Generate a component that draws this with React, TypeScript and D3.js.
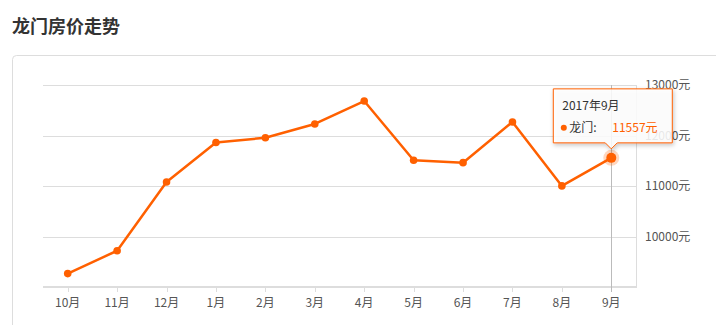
import React from "react";
import * as d3 from "d3";

const months = ["10月", "11月", "12月", "1月", "2月", "3月", "4月", "5月", "6月", "7月", "8月", "9月"];
const prices = [9265, 9718, 11080, 11862, 11955, 12228, 12683, 11510, 11462, 12268, 11002, 11557];
const yTicks = [10000, 11000, 12000, 13000];
const seriesName = "龙门";
const tooltipTitle = "2017年9月";
const titleText = "龙门房价走势";

const W = 716;
const H = 325;
const ORANGE = "#ff6000";
const FONT = "'Microsoft YaHei', 'Noto Sans CJK SC', 'Noto Sans', sans-serif";

export default function App() {
  const x = d3.scaleBand<string>().domain(months).range([43, 636]);
  const xc = (m: string) => (x(m) as number) + x.bandwidth() / 2;
  const y = d3.scaleLinear().domain([9000, 13000]).range([287, 85]);

  const line = d3
    .line<number>()
    .x((_, i) => xc(months[i]))
    .y((d) => y(d));

  const lastIdx = prices.length - 1;
  const px = xc(months[lastIdx]);
  const py = y(prices[lastIdx]);

  const boxW = 119;
  const boxH = 54;
  const boxL = px - 58;
  const boxB = py - 15;
  const boxT = boxB - boxH;
  const tipPath = `M${boxL},${boxT} H${boxL + boxW} V${boxB} H${px + 6} L${px},${boxB + 6} L${px - 6},${boxB} H${boxL} Z`;

  return (
    <svg
      width={W}
      height={H}
      style={{ position: "absolute", left: 0, top: 0, background: "#fff" }}
      fontFamily={FONT}
    >
      <defs>
        <filter id="shadow" x="-20%" y="-20%" width="140%" height="160%">
          <feDropShadow dx="1" dy="2" stdDeviation="2" floodColor="#000" floodOpacity="0.25" />
        </filter>
      </defs>
      <text x={12} y={33} fontSize={18} fontWeight="bold" fill="#333">
        {titleText}
      </text>
      <rect x={12.5} y={55.5} width={760} height={320} rx={4} fill="none" stroke="#ddd" />

      {yTicks.map((t) => (
        <line key={t} x1={43} x2={636} y1={Math.round(y(t)) + 0.5} y2={Math.round(y(t)) + 0.5} stroke="#ddd" />
      ))}
      <line x1={636.5} x2={636.5} y1={y(13000)} y2={287} stroke="#ddd" />
      <line x1={43} x2={637} y1={287} y2={287} stroke="#ddd" strokeWidth={2} />
      {months.map((m) => (
        <g key={m}>
          <line x1={Math.round(xc(m)) + 0.5} x2={Math.round(xc(m)) + 0.5} y1={288} y2={292} stroke="#ddd" />
          <text x={xc(m)} y={307} fontSize={12} fill="#555" textAnchor="middle">
            {m}
          </text>
        </g>
      ))}
      {yTicks.map((t) => (
        <text key={t} x={645} y={y(t) + 4} fontSize={12} fill="#555">
          {t + "元"}
        </text>
      ))}

      <line x1={Math.round(px) + 0.5} x2={Math.round(px) + 0.5} y1={y(13000)} y2={292} stroke="#bbb" />

      <path d={line(prices) as string} fill="none" stroke={ORANGE} strokeWidth={2.5} strokeLinejoin="round" />
      {prices.map((v, i) =>
        i === lastIdx ? null : <circle key={i} cx={xc(months[i])} cy={y(v)} r={3.8} fill={ORANGE} />
      )}
      <circle cx={px} cy={py} r={8} fill={ORANGE} opacity={0.25} />
      <circle cx={px} cy={py} r={5} fill={ORANGE} />

      <path d={tipPath} fill="rgba(255,255,255,0.85)" stroke={ORANGE} strokeWidth={1} filter="url(#shadow)" />
      <text x={boxL + 9} y={boxT + 21} fontSize={12} fill="#333">
        {tooltipTitle}
      </text>
      <circle cx={boxL + 10.5} cy={boxT + 39} r={3} fill={ORANGE} />
      <text x={boxL + 16} y={boxT + 43} fontSize={12} fill="#333">
        {seriesName + ":"}
      </text>
      <text x={boxL + 59} y={boxT + 43} fontSize={12} fill={ORANGE}>
        {prices[lastIdx] + "元"}
      </text>
    </svg>
  );
}
